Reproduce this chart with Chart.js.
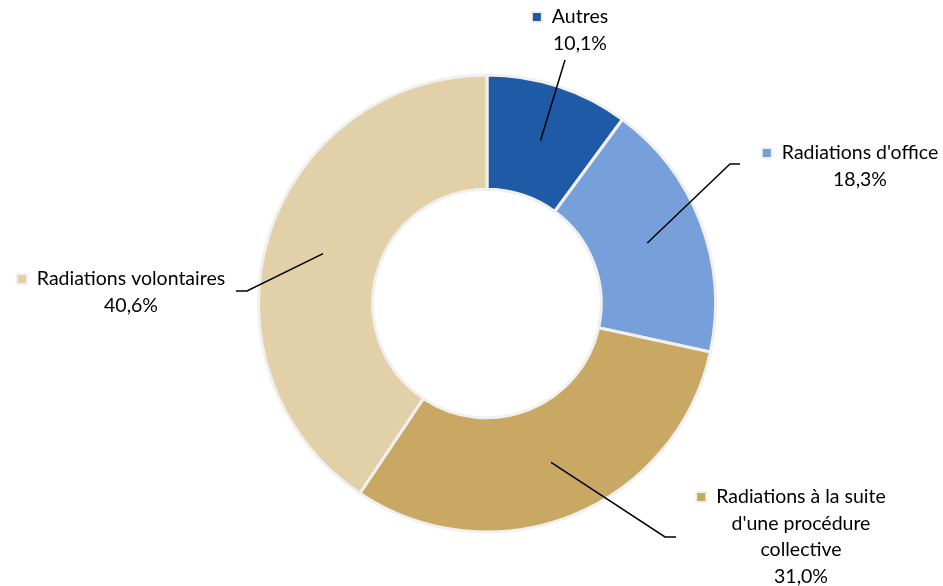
<!DOCTYPE html>
<html>
<head>
<meta charset="utf-8">
<script src="https://cdn.jsdelivr.net/npm/chart.js@4"></script>
<style>
    html, body { margin: 0; padding: 0; background: #fff; }
    #wrap { width: 943px; height: 586px; position: relative; }
</style>
</head>
<body>
<div id="wrap"><canvas id="chart"></canvas></div>
<script>
// Data
const categories = ['Autres', "Radiations d'office", 'Radiations à la suite d\'une procédure collective', 'Radiations volontaires'];
const shares = [10.1, 18.3, 31.0, 40.6];
const colors = ['#1F5AA6', '#779FD9', '#C8A862', '#E2D0A8'];

// Label placement (text centre x, first line middle y, wrap width, leader elbow / end)
const labelLayout = [
    { cx: 580, y: 17, wrap: 300, elbow: null, end: [565, 60] },
    { cx: 860, y: 153, wrap: 300, elbow: [730, 164], end: [740, 164] },
    { cx: 801, y: 497, wrap: 185, elbow: [665, 537], end: [676, 537] },
    { cx: 131, y: 279, wrap: 300, elbow: [247, 291], end: [236, 291] }
];

const FONT = '19.5px Lato, "Open Sans", sans-serif';
const LINE_H = 26.5;

function fmtPct(v) {
    return v.toFixed(1).replace('.', ',') + '%';
}

function wrapText(ctx, text, maxW) {
    const words = text.split(' ');
    const lines = [];
    let cur = '';
    words.forEach(w => {
        const test = cur ? cur + ' ' + w : w;
        if (ctx.measureText(test).width > maxW && cur) {
            lines.push(cur);
            cur = w;
        } else {
            cur = test;
        }
    });
    if (cur) lines.push(cur);
    return lines;
}

// Leader lines + labels
const calloutPlugin = {
    id: 'callouts',
    afterDatasetsDraw(chart) {
        const ctx = chart.ctx;
        const arcs = chart.getDatasetMeta(0).data;
        ctx.save();
        ctx.font = FONT;
        arcs.forEach((arc, i) => {
            const lay = labelLayout[i];
            const p = arc.tooltipPosition();

            // leader
            ctx.beginPath();
            ctx.strokeStyle = '#000';
            ctx.lineWidth = 1.5;
            ctx.moveTo(p.x, p.y);
            if (lay.elbow) ctx.lineTo(lay.elbow[0], lay.elbow[1]);
            ctx.lineTo(lay.end[0], lay.end[1]);
            ctx.stroke();

            // text
            const lines = wrapText(ctx, categories[i], lay.wrap);
            lines.push(fmtPct(shares[i]));
            ctx.fillStyle = '#000';
            ctx.textAlign = 'center';
            ctx.textBaseline = 'middle';
            lines.forEach((ln, k) => ctx.fillText(ln, lay.cx, lay.y + k * LINE_H));

            // legend key before the first line
            const w0 = ctx.measureText(lines[0]).width;
            const kx = lay.cx - w0 / 2 - 21;
            const ky = lay.y - 6;
            ctx.fillStyle = '#EFEFEF';
            ctx.fillRect(kx, ky, 12, 12);
            ctx.fillStyle = colors[i];
            ctx.fillRect(kx + 2, ky + 2, 8, 8);
        });
        ctx.restore();
    }
};

new Chart(document.getElementById('chart'), {
    type: 'doughnut',
    data: {
        labels: categories,
        datasets: [{
            data: shares,
            backgroundColor: colors,
            borderColor: '#F0F0F0',
            borderWidth: 3
        }]
    },
    options: {
        responsive: true,
        maintainAspectRatio: false,
        animation: false,
        cutout: '50%',
        layout: { padding: { left: 257, right: 226, top: 72, bottom: 51 } },
        plugins: {
            legend: { display: false },
            tooltip: { enabled: false }
        }
    },
    plugins: [calloutPlugin]
});
</script>
</body>
</html>
